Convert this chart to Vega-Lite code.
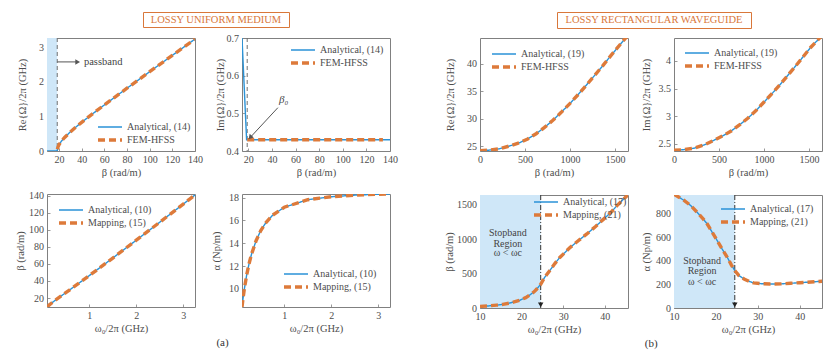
{
"$schema":"https://vega.github.io/schema/vega-lite/v6.json",
"background":"white",
"padding":{"left":15,"top":11,"right":5,"bottom":9},
"config":{
 "font":"Liberation Serif",
 "view":{"stroke":"#808080","strokeWidth":1},
 "axis":{"domain":false,"grid":false,"tickColor":"#808080","tickSize":-3,"tickWidth":0.8,"labelPadding":6.5,"labelFont":"Liberation Serif","labelFontSize":10,"labelColor":"#4d4d4d","labelFlush":false,"labelOverlap":false,"titleFont":"Liberation Serif","titleFontSize":10.5,"titleFontWeight":"normal","titleColor":"#4d4d4d","titlePadding":3,"labelExpr":"'' + datum.value"},
 "legend":{"labelFont":"Liberation Serif","labelFontSize":10,"labelColor":"#4d4d4d","rowPadding":1,"padding":0,"labelLimit":200},
 "title":{"font":"Liberation Serif","fontSize":11,"fontWeight":"normal","color":"#333333"}
},
"resolve":{"scale":{"color":"independent","strokeDash":"independent","strokeWidth":"independent"},"legend":{"color":"independent","strokeDash":"independent","strokeWidth":"independent"}},
"spacing":3,
"vconcat":[
 {"hconcat":[
   {"width":95,"height":15,"view":{"stroke":null},"data":{"values":[{"t":""}]},"mark":{"type":"text"},"encoding":{"text":{"field":"t"}}},
   {"width":146,"height":15,"view":{"stroke":"#d9773a","strokeWidth":1},"data":{"values":[{"t":"LOSSY UNIFORM MEDIUM"}]},"mark":{"type":"text","font":"Liberation Serif","fontSize":10.5,"color":"#d9773a"},"encoding":{"text":{"field":"t"}}},
   {"width":266,"height":15,"view":{"stroke":null},"data":{"values":[{"t":""}]},"mark":{"type":"text"},"encoding":{"text":{"field":"t"}}},
   {"width":194,"height":16,"view":{"stroke":"#d9773a","strokeWidth":1},"data":{"values":[{"t":"LOSSY RECTANGULAR WAVEGUIDE"}]},"mark":{"type":"text","font":"Liberation Serif","fontSize":10.5,"color":"#d9773a"},"encoding":{"text":{"field":"t"}}}
  ],"spacing":0},
 {"hconcat":[
  {"concat":[
   {"width":148,"height":113,"layer":[
     {"data":{"values":[{"x":9.44,"x2":18.48}]},"mark":{"type":"rect","color":"#cfe7f8"},"encoding":{"x":{"field":"x","type":"quantitative","axis":{"values":[20,40,60,80,100,120,140],"title":"β (rad/m)"}},"x2":{"field":"x2"}}},
     {"data":{"values":[{"x":18.48}]},"mark":{"type":"rule","color":"#707070","strokeDash":[4,3],"strokeWidth":1},"encoding":{"x":{"field":"x","type":"quantitative","axis":{"values":[20,40,60,80,100,120,140],"title":"β (rad/m)"}}}},
     {"data":{"values":[
       {"s":"Analytical, (14)","x":9.44,"y":0},{"s":"Analytical, (14)","x":18.48,"y":0},{"s":"Analytical, (14)","x":18.7,"y":0.067},{"s":"Analytical, (14)","x":19,"y":0.103},{"s":"Analytical, (14)","x":20,"y":0.178},{"s":"Analytical, (14)","x":22,"y":0.278},{"s":"Analytical, (14)","x":25,"y":0.392},{"s":"Analytical, (14)","x":30,"y":0.55},{"s":"Analytical, (14)","x":35,"y":0.692},{"s":"Analytical, (14)","x":40,"y":0.826},{"s":"Analytical, (14)","x":50,"y":1.081},{"s":"Analytical, (14)","x":60,"y":1.328},{"s":"Analytical, (14)","x":70,"y":1.571},{"s":"Analytical, (14)","x":80,"y":1.811},{"s":"Analytical, (14)","x":100,"y":2.287},{"s":"Analytical, (14)","x":120,"y":2.759},{"s":"Analytical, (14)","x":140,"y":3.229},
       {"s":"FEM-HFSS","x":18.6,"y":0.05},{"s":"FEM-HFSS","x":19,"y":0.103},{"s":"FEM-HFSS","x":20,"y":0.178},{"s":"FEM-HFSS","x":22,"y":0.278},{"s":"FEM-HFSS","x":25,"y":0.392},{"s":"FEM-HFSS","x":30,"y":0.55},{"s":"FEM-HFSS","x":35,"y":0.692},{"s":"FEM-HFSS","x":40,"y":0.826},{"s":"FEM-HFSS","x":50,"y":1.081},{"s":"FEM-HFSS","x":60,"y":1.328},{"s":"FEM-HFSS","x":70,"y":1.571},{"s":"FEM-HFSS","x":80,"y":1.811},{"s":"FEM-HFSS","x":100,"y":2.287},{"s":"FEM-HFSS","x":120,"y":2.759},{"s":"FEM-HFSS","x":140,"y":3.229}
     ]},"mark":{"type":"line","clip":true},"encoding":{
       "x":{"field":"x","type":"quantitative","scale":{"domain":[9.44,140],"nice":false,"zero":false},"axis":{"values":[20,40,60,80,100,120,140],"title":"β (rad/m)"}},
       "y":{"field":"y","type":"quantitative","scale":{"domain":[0,3.26],"nice":false,"zero":false},"axis":{"values":[0,1,2,3],"title":"Re{Ω}/2π (GHz)","titlePadding":11}},
       "color":{"field":"s","type":"nominal","scale":{"domain":["Analytical, (14)","FEM-HFSS"],"range":["#2b93d7","#dd7a3a"]},"legend":{"title":null,"orient":"bottom-right","offset":4,"symbolType":"M-1,0H3.8","symbolSize":100,"labelOffset":17}},
       "strokeDash":{"field":"s","type":"nominal","scale":{"domain":["Analytical, (14)","FEM-HFSS"],"range":[[1,0],[7,4]]},"legend":{"title":null,"orient":"bottom-right","offset":4,"symbolType":"M-1,0H3.8","symbolSize":100,"labelOffset":17}},
       "strokeWidth":{"field":"s","type":"nominal","scale":{"domain":["Analytical, (14)","FEM-HFSS"],"range":[1.4,3.4]},"legend":{"title":null,"orient":"bottom-right","offset":4,"symbolType":"M-1,0H3.8","symbolSize":100,"labelOffset":17}}}},
     {"data":{"values":[{"x":18.48,"x2":36,"y":2.57}]},"mark":{"type":"rule","color":"#555555","strokeWidth":1},"encoding":{"x":{"field":"x","type":"quantitative","axis":{"values":[20,40,60,80,100,120,140],"title":"β (rad/m)"}},"x2":{"field":"x2"},"y":{"field":"y","type":"quantitative","axis":{"values":[0,1,2,3],"title":"Re{Ω}/2π (GHz)","titlePadding":11}}}},
     {"data":{"values":[{"x":36.5,"y":2.57}]},"mark":{"type":"point","shape":"triangle-right","filled":true,"color":"#555555","size":30,"opacity":1},"encoding":{"x":{"field":"x","type":"quantitative","axis":{"values":[20,40,60,80,100,120,140],"title":"β (rad/m)"}},"y":{"field":"y","type":"quantitative","axis":{"values":[0,1,2,3],"title":"Re{Ω}/2π (GHz)","titlePadding":11}}}},
     {"data":{"values":[{"x":42,"y":2.57,"t":"passband"}]},"mark":{"type":"text","align":"left","baseline":"middle","fontSize":10.5,"color":"#444444"},"encoding":{"x":{"field":"x","type":"quantitative","axis":{"values":[20,40,60,80,100,120,140],"title":"β (rad/m)"}},"y":{"field":"y","type":"quantitative","axis":{"values":[0,1,2,3],"title":"Re{Ω}/2π (GHz)","titlePadding":11}},"text":{"field":"t"}}}
   ]},
   {"width":148,"height":113,"layer":[
     {"data":{"values":[{"x":19}]},"mark":{"type":"rule","color":"#707070","strokeDash":[4,3],"strokeWidth":1},"encoding":{"x":{"field":"x","type":"quantitative","axis":{"values":[20,40,60,80,100,120,140],"title":"β (rad/m)"}}}},
     {"data":{"values":[
       {"s":"Analytical, (14)","x":14.6,"y":0.7},{"s":"Analytical, (14)","x":18.5,"y":0.43},{"s":"Analytical, (14)","x":140,"y":0.43},
       {"s":"FEM-HFSS","x":19,"y":0.43},{"s":"FEM-HFSS","x":134,"y":0.43}
     ]},"mark":{"type":"line","clip":true},"encoding":{
       "x":{"field":"x","type":"quantitative","scale":{"domain":[14.6,140],"nice":false,"zero":false},"axis":{"values":[20,40,60,80,100,120,140],"title":"β (rad/m)"}},
       "y":{"field":"y","type":"quantitative","scale":{"domain":[0.4,0.7],"nice":false,"zero":false},"axis":{"values":[0.4,0.5,0.6,0.7],"title":"Im{Ω}/2π (GHz)","titlePadding":1}},
       "color":{"field":"s","type":"nominal","scale":{"domain":["Analytical, (14)","FEM-HFSS"],"range":["#2b93d7","#dd7a3a"]},"legend":{"title":null,"orient":"top-right","offset":6,"symbolType":"M-1,0H3.8","symbolSize":100,"labelOffset":17}},
       "strokeDash":{"field":"s","type":"nominal","scale":{"domain":["Analytical, (14)","FEM-HFSS"],"range":[[1,0],[7,4]]},"legend":{"title":null,"orient":"top-right","offset":6,"symbolType":"M-1,0H3.8","symbolSize":100,"labelOffset":17}},
       "strokeWidth":{"field":"s","type":"nominal","scale":{"domain":["Analytical, (14)","FEM-HFSS"],"range":[1.4,3.4]},"legend":{"title":null,"orient":"top-right","offset":6,"symbolType":"M-1,0H3.8","symbolSize":100,"labelOffset":17}}}},
     {"data":{"values":[{"x":45,"y":0.515,"x2":21,"y2":0.434}]},"mark":{"type":"rule","color":"#555555","strokeWidth":1},"encoding":{"x":{"field":"x","type":"quantitative","axis":{"values":[20,40,60,80,100,120,140],"title":"β (rad/m)"}},"x2":{"field":"x2"},"y":{"field":"y","type":"quantitative","axis":{"values":[0.4,0.5,0.6,0.7],"title":"Im{Ω}/2π (GHz)","titlePadding":1}},"y2":{"field":"y2"}}},
     {"data":{"values":[{"x":21.5,"y":0.436}]},"mark":{"type":"point","shape":"triangle-up","angle":222,"filled":true,"color":"#555555","size":30,"opacity":1},"encoding":{"x":{"field":"x","type":"quantitative","axis":{"values":[20,40,60,80,100,120,140],"title":"β (rad/m)"}},"y":{"field":"y","type":"quantitative","axis":{"values":[0.4,0.5,0.6,0.7],"title":"Im{Ω}/2π (GHz)","titlePadding":1}}}},
     {"data":{"values":[{"x":50,"y":0.535,"t":"β₀"}]},"mark":{"type":"text","align":"center","baseline":"middle","fontSize":11,"fontStyle":"italic","color":"#444444"},"encoding":{"x":{"field":"x","type":"quantitative","axis":{"values":[20,40,60,80,100,120,140],"title":"β (rad/m)"}},"y":{"field":"y","type":"quantitative","axis":{"values":[0.4,0.5,0.6,0.7],"title":"Im{Ω}/2π (GHz)","titlePadding":1}},"text":{"field":"t"}}}
   ]},
   {"width":148,"height":113,"layer":[
     {"data":{"values":[
       {"s":"Analytical, (10)","x":0.1,"y":9.44},{"s":"Analytical, (10)","x":0.12,"y":10.47},{"s":"Analytical, (10)","x":0.15,"y":11.9},{"s":"Analytical, (10)","x":0.2,"y":14.14},{"s":"Analytical, (10)","x":0.25,"y":16.26},{"s":"Analytical, (10)","x":0.3,"y":18.31},{"s":"Analytical, (10)","x":0.5,"y":26.27},{"s":"Analytical, (10)","x":0.75,"y":36.19},{"s":"Analytical, (10)","x":1,"y":46.27},{"s":"Analytical, (10)","x":1.5,"y":66.88},{"s":"Analytical, (10)","x":2,"y":87.82},{"s":"Analytical, (10)","x":2.5,"y":108.9},{"s":"Analytical, (10)","x":3,"y":130.2},{"s":"Analytical, (10)","x":3.25,"y":140.9},
       {"s":"Mapping, (15)","x":0.1,"y":9.44},{"s":"Mapping, (15)","x":0.12,"y":10.47},{"s":"Mapping, (15)","x":0.15,"y":11.9},{"s":"Mapping, (15)","x":0.2,"y":14.14},{"s":"Mapping, (15)","x":0.25,"y":16.26},{"s":"Mapping, (15)","x":0.3,"y":18.31},{"s":"Mapping, (15)","x":0.5,"y":26.27},{"s":"Mapping, (15)","x":0.75,"y":36.19},{"s":"Mapping, (15)","x":1,"y":46.27},{"s":"Mapping, (15)","x":1.5,"y":66.88},{"s":"Mapping, (15)","x":2,"y":87.82},{"s":"Mapping, (15)","x":2.5,"y":108.9},{"s":"Mapping, (15)","x":3,"y":130.2},{"s":"Mapping, (15)","x":3.25,"y":140.9}
     ]},"mark":{"type":"line","clip":true},"encoding":{
       "x":{"field":"x","type":"quantitative","scale":{"domain":[0.1,3.25],"nice":false,"zero":false},"axis":{"values":[1,2,3],"title":"ω₀/2π (GHz)"}},
       "y":{"field":"y","type":"quantitative","scale":{"domain":[9.45,142],"nice":false,"zero":false},"axis":{"values":[20,40,60,80,100,120,140],"title":"β (rad/m)","titlePadding":3}},
       "color":{"field":"s","type":"nominal","scale":{"domain":["Analytical, (10)","Mapping, (15)"],"range":["#2b93d7","#dd7a3a"]},"legend":{"title":null,"orient":"top-left","offset":10,"symbolType":"M-1,0H3.8","symbolSize":100,"labelOffset":17}},
       "strokeDash":{"field":"s","type":"nominal","scale":{"domain":["Analytical, (10)","Mapping, (15)"],"range":[[1,0],[7,4]]},"legend":{"title":null,"orient":"top-left","offset":10,"symbolType":"M-1,0H3.8","symbolSize":100,"labelOffset":17}},
       "strokeWidth":{"field":"s","type":"nominal","scale":{"domain":["Analytical, (10)","Mapping, (15)"],"range":[1.4,3.4]},"legend":{"title":null,"orient":"top-left","offset":10,"symbolType":"M-1,0H3.8","symbolSize":100,"labelOffset":17}}}}
   ]},
   {"width":148,"height":113,"layer":[
     {"data":{"values":[
       {"s":"Analytical, (10)","x":0.1,"y":8.41},{"s":"Analytical, (10)","x":0.12,"y":9.11},{"s":"Analytical, (10)","x":0.15,"y":10.01},{"s":"Analytical, (10)","x":0.2,"y":11.23},{"s":"Analytical, (10)","x":0.25,"y":12.21},{"s":"Analytical, (10)","x":0.3,"y":13.01},{"s":"Analytical, (10)","x":0.4,"y":14.23},{"s":"Analytical, (10)","x":0.5,"y":15.12},{"s":"Analytical, (10)","x":0.6,"y":15.76},{"s":"Analytical, (10)","x":0.75,"y":16.46},{"s":"Analytical, (10)","x":1,"y":17.16},{"s":"Analytical, (10)","x":1.5,"y":17.82},{"s":"Analytical, (10)","x":2,"y":18.08},{"s":"Analytical, (10)","x":2.5,"y":18.22},{"s":"Analytical, (10)","x":3,"y":18.3},{"s":"Analytical, (10)","x":3.25,"y":18.32},
       {"s":"Mapping, (15)","x":0.1,"y":8.41},{"s":"Mapping, (15)","x":0.12,"y":9.11},{"s":"Mapping, (15)","x":0.15,"y":10.01},{"s":"Mapping, (15)","x":0.2,"y":11.23},{"s":"Mapping, (15)","x":0.25,"y":12.21},{"s":"Mapping, (15)","x":0.3,"y":13.01},{"s":"Mapping, (15)","x":0.4,"y":14.23},{"s":"Mapping, (15)","x":0.5,"y":15.12},{"s":"Mapping, (15)","x":0.6,"y":15.76},{"s":"Mapping, (15)","x":0.75,"y":16.46},{"s":"Mapping, (15)","x":1,"y":17.16},{"s":"Mapping, (15)","x":1.5,"y":17.82},{"s":"Mapping, (15)","x":2,"y":18.08},{"s":"Mapping, (15)","x":2.5,"y":18.22},{"s":"Mapping, (15)","x":3,"y":18.3},{"s":"Mapping, (15)","x":3.25,"y":18.32}
     ]},"mark":{"type":"line","clip":true},"encoding":{
       "x":{"field":"x","type":"quantitative","scale":{"domain":[0.1,3.25],"nice":false,"zero":false},"axis":{"values":[1,2,3],"title":"ω₀/2π (GHz)"}},
       "y":{"field":"y","type":"quantitative","scale":{"domain":[8.42,18.32],"nice":false,"zero":false},"axis":{"values":[10,12,14,16,18],"title":"α (Np/m)","titlePadding":7}},
       "color":{"field":"s","type":"nominal","scale":{"domain":["Analytical, (10)","Mapping, (15)"],"range":["#2b93d7","#dd7a3a"]},"legend":{"title":null,"orient":"bottom-right","offset":13,"symbolType":"M-1,0H3.8","symbolSize":100,"labelOffset":17}},
       "strokeDash":{"field":"s","type":"nominal","scale":{"domain":["Analytical, (10)","Mapping, (15)"],"range":[[1,0],[7,4]]},"legend":{"title":null,"orient":"bottom-right","offset":13,"symbolType":"M-1,0H3.8","symbolSize":100,"labelOffset":17}},
       "strokeWidth":{"field":"s","type":"nominal","scale":{"domain":["Analytical, (10)","Mapping, (15)"],"range":[1.4,3.4]},"legend":{"title":null,"orient":"bottom-right","offset":13,"symbolType":"M-1,0H3.8","symbolSize":100,"labelOffset":17}}}}
   ]}
  ],"columns":2,"spacing":{"row":43,"column":47},"bounds":"flush",
  "title":{"text":"(a)","orient":"bottom","anchor":"middle","offset":2,"dx":16},
  "resolve":{"scale":{"color":"independent","strokeDash":"independent","strokeWidth":"independent"},"legend":{"color":"independent","strokeDash":"independent","strokeWidth":"independent"}}},
  {"concat":[
   {"width":148,"height":113,"layer":[
     {"data":{"values":[
       {"s":"Analytical, (19)","x":0,"y":24.15},{"s":"Analytical, (19)","x":100,"y":24.25},{"s":"Analytical, (19)","x":215,"y":24.5},{"s":"Analytical, (19)","x":325,"y":25},{"s":"Analytical, (19)","x":438,"y":25.6},{"s":"Analytical, (19)","x":530,"y":26.3},{"s":"Analytical, (19)","x":624,"y":27.25},{"s":"Analytical, (19)","x":717,"y":28.4},{"s":"Analytical, (19)","x":810,"y":29.7},{"s":"Analytical, (19)","x":903,"y":31.15},{"s":"Analytical, (19)","x":996,"y":32.7},{"s":"Analytical, (19)","x":1089,"y":34.35},{"s":"Analytical, (19)","x":1182,"y":36.1},{"s":"Analytical, (19)","x":1275,"y":37.9},{"s":"Analytical, (19)","x":1368,"y":39.7},{"s":"Analytical, (19)","x":1450,"y":41.4},{"s":"Analytical, (19)","x":1517,"y":42.7},{"s":"Analytical, (19)","x":1580,"y":43.95},{"s":"Analytical, (19)","x":1645,"y":45.2},
       {"s":"FEM-HFSS","x":0,"y":24.15},{"s":"FEM-HFSS","x":100,"y":24.25},{"s":"FEM-HFSS","x":215,"y":24.5},{"s":"FEM-HFSS","x":325,"y":25},{"s":"FEM-HFSS","x":438,"y":25.6},{"s":"FEM-HFSS","x":530,"y":26.3},{"s":"FEM-HFSS","x":624,"y":27.25},{"s":"FEM-HFSS","x":717,"y":28.4},{"s":"FEM-HFSS","x":810,"y":29.7},{"s":"FEM-HFSS","x":903,"y":31.15},{"s":"FEM-HFSS","x":996,"y":32.7},{"s":"FEM-HFSS","x":1089,"y":34.35},{"s":"FEM-HFSS","x":1182,"y":36.1},{"s":"FEM-HFSS","x":1275,"y":37.9},{"s":"FEM-HFSS","x":1368,"y":39.7},{"s":"FEM-HFSS","x":1450,"y":41.4},{"s":"FEM-HFSS","x":1517,"y":42.7},{"s":"FEM-HFSS","x":1580,"y":43.95},{"s":"FEM-HFSS","x":1645,"y":45.2}
     ]},"mark":{"type":"line","clip":true},"encoding":{
       "x":{"field":"x","type":"quantitative","scale":{"domain":[0,1645],"nice":false,"zero":false},"axis":{"values":[0,500,1000,1500],"title":"β (rad/m)"}},
       "y":{"field":"y","type":"quantitative","scale":{"domain":[24.1,44.7],"nice":false,"zero":false},"axis":{"values":[25,30,35,40],"title":"Re{Ω}/2π (GHz)","titlePadding":11}},
       "color":{"field":"s","type":"nominal","scale":{"domain":["Analytical, (19)","FEM-HFSS"],"range":["#2b93d7","#dd7a3a"]},"legend":{"title":null,"orient":"top-left","offset":10,"symbolType":"M-1,0H3.8","symbolSize":100,"labelOffset":17}},
       "strokeDash":{"field":"s","type":"nominal","scale":{"domain":["Analytical, (19)","FEM-HFSS"],"range":[[1,0],[7,4]]},"legend":{"title":null,"orient":"top-left","offset":10,"symbolType":"M-1,0H3.8","symbolSize":100,"labelOffset":17}},
       "strokeWidth":{"field":"s","type":"nominal","scale":{"domain":["Analytical, (19)","FEM-HFSS"],"range":[1.4,3.4]},"legend":{"title":null,"orient":"top-left","offset":10,"symbolType":"M-1,0H3.8","symbolSize":100,"labelOffset":17}}}}
   ]},
   {"width":148,"height":113,"layer":[
     {"data":{"values":[
       {"s":"Analytical, (19)","x":0,"y":2.38},{"s":"Analytical, (19)","x":100,"y":2.39},{"s":"Analytical, (19)","x":229,"y":2.42},{"s":"Analytical, (19)","x":340,"y":2.48},{"s":"Analytical, (19)","x":450,"y":2.567},{"s":"Analytical, (19)","x":540,"y":2.64},{"s":"Analytical, (19)","x":635,"y":2.73},{"s":"Analytical, (19)","x":727,"y":2.84},{"s":"Analytical, (19)","x":819,"y":2.96},{"s":"Analytical, (19)","x":911,"y":3.1},{"s":"Analytical, (19)","x":1003,"y":3.26},{"s":"Analytical, (19)","x":1095,"y":3.42},{"s":"Analytical, (19)","x":1188,"y":3.59},{"s":"Analytical, (19)","x":1280,"y":3.77},{"s":"Analytical, (19)","x":1372,"y":3.95},{"s":"Analytical, (19)","x":1446,"y":4.1},{"s":"Analytical, (19)","x":1520,"y":4.25},{"s":"Analytical, (19)","x":1585,"y":4.36},{"s":"Analytical, (19)","x":1644,"y":4.46},
       {"s":"FEM-HFSS","x":0,"y":2.38},{"s":"FEM-HFSS","x":100,"y":2.39},{"s":"FEM-HFSS","x":229,"y":2.42},{"s":"FEM-HFSS","x":340,"y":2.48},{"s":"FEM-HFSS","x":450,"y":2.567},{"s":"FEM-HFSS","x":540,"y":2.64},{"s":"FEM-HFSS","x":635,"y":2.73},{"s":"FEM-HFSS","x":727,"y":2.84},{"s":"FEM-HFSS","x":819,"y":2.96},{"s":"FEM-HFSS","x":911,"y":3.1},{"s":"FEM-HFSS","x":1003,"y":3.26},{"s":"FEM-HFSS","x":1095,"y":3.42},{"s":"FEM-HFSS","x":1188,"y":3.59},{"s":"FEM-HFSS","x":1280,"y":3.77},{"s":"FEM-HFSS","x":1372,"y":3.95},{"s":"FEM-HFSS","x":1446,"y":4.1},{"s":"FEM-HFSS","x":1520,"y":4.25},{"s":"FEM-HFSS","x":1585,"y":4.36},{"s":"FEM-HFSS","x":1644,"y":4.46}
     ]},"mark":{"type":"line","clip":true},"encoding":{
       "x":{"field":"x","type":"quantitative","scale":{"domain":[0,1644],"nice":false,"zero":false},"axis":{"values":[0,500,1000,1500],"title":"β (rad/m)"}},
       "y":{"field":"y","type":"quantitative","scale":{"domain":[2.367,4.417],"nice":false,"zero":false},"axis":{"values":[2.5,3,3.5,4],"title":"Im{Ω}/2π (GHz)","titlePadding":7}},
       "color":{"field":"s","type":"nominal","scale":{"domain":["Analytical, (19)","FEM-HFSS"],"range":["#2b93d7","#dd7a3a"]},"legend":{"title":null,"orient":"top-left","offset":9,"symbolType":"M-1,0H3.8","symbolSize":100,"labelOffset":17}},
       "strokeDash":{"field":"s","type":"nominal","scale":{"domain":["Analytical, (19)","FEM-HFSS"],"range":[[1,0],[7,4]]},"legend":{"title":null,"orient":"top-left","offset":9,"symbolType":"M-1,0H3.8","symbolSize":100,"labelOffset":17}},
       "strokeWidth":{"field":"s","type":"nominal","scale":{"domain":["Analytical, (19)","FEM-HFSS"],"range":[1.4,3.4]},"legend":{"title":null,"orient":"top-left","offset":9,"symbolType":"M-1,0H3.8","symbolSize":100,"labelOffset":17}}}}
   ]},
   {"width":148,"height":113,"layer":[
     {"data":{"values":[{"x":10,"x2":24.6}]},"mark":{"type":"rect","color":"#cfe7f8"},"encoding":{"x":{"field":"x","type":"quantitative","axis":{"values":[10,20,30,40],"title":"ω₀/2π (GHz)"}},"x2":{"field":"x2"}}},
     {"data":{"values":[{"x":24.6}]},"mark":{"type":"rule","color":"#333333","strokeDash":[5,2,1,2],"strokeWidth":1},"encoding":{"x":{"field":"x","type":"quantitative","axis":{"values":[10,20,30,40],"title":"ω₀/2π (GHz)"}}}},
     {"data":{"values":[{"x":24.6,"y":45}]},"mark":{"type":"point","shape":"triangle-down","filled":true,"color":"#222222","size":30,"opacity":1},"encoding":{"x":{"field":"x","type":"quantitative","axis":{"values":[10,20,30,40],"title":"ω₀/2π (GHz)"}},"y":{"field":"y","type":"quantitative","axis":{"values":[0,500,1000,1500],"title":"β (rad/m)","titlePadding":2}}}},
     {"data":{"values":[{"x":16.7,"y":1091,"t":"Stopband"},{"x":16.7,"y":930,"t":"Region"},{"x":16.7,"y":794,"t":"ω < ωc"}]},"mark":{"type":"text","align":"center","baseline":"middle","fontSize":10,"color":"#444444"},"encoding":{"x":{"field":"x","type":"quantitative","axis":{"values":[10,20,30,40],"title":"ω₀/2π (GHz)"}},"y":{"field":"y","type":"quantitative","axis":{"values":[0,500,1000,1500],"title":"β (rad/m)","titlePadding":2}},"text":{"field":"t"}}},
     {"data":{"values":[
       {"s":"Analytical, (17)","x":10,"y":23},{"s":"Analytical, (17)","x":12,"y":30},{"s":"Analytical, (17)","x":14,"y":42},{"s":"Analytical, (17)","x":15.5,"y":53},{"s":"Analytical, (17)","x":17,"y":70},{"s":"Analytical, (17)","x":18,"y":85},{"s":"Analytical, (17)","x":19.5,"y":111},{"s":"Analytical, (17)","x":21,"y":150},{"s":"Analytical, (17)","x":22,"y":190},{"s":"Analytical, (17)","x":23,"y":235},{"s":"Analytical, (17)","x":23.6,"y":272},{"s":"Analytical, (17)","x":24.6,"y":345},{"s":"Analytical, (17)","x":25.5,"y":440},{"s":"Analytical, (17)","x":26.8,"y":545},{"s":"Analytical, (17)","x":28,"y":645},{"s":"Analytical, (17)","x":29.2,"y":735},{"s":"Analytical, (17)","x":30.5,"y":810},{"s":"Analytical, (17)","x":31.7,"y":881},{"s":"Analytical, (17)","x":33.7,"y":980},{"s":"Analytical, (17)","x":35.7,"y":1076},{"s":"Analytical, (17)","x":37.8,"y":1185},{"s":"Analytical, (17)","x":39.8,"y":1295},{"s":"Analytical, (17)","x":41.5,"y":1390},{"s":"Analytical, (17)","x":43,"y":1491},{"s":"Analytical, (17)","x":44.5,"y":1580},{"s":"Analytical, (17)","x":45.6,"y":1645},
       {"s":"Mapping, (21)","x":10,"y":23},{"s":"Mapping, (21)","x":12,"y":30},{"s":"Mapping, (21)","x":14,"y":42},{"s":"Mapping, (21)","x":15.5,"y":53},{"s":"Mapping, (21)","x":17,"y":70},{"s":"Mapping, (21)","x":18,"y":85},{"s":"Mapping, (21)","x":19.5,"y":111},{"s":"Mapping, (21)","x":21,"y":150},{"s":"Mapping, (21)","x":22,"y":190},{"s":"Mapping, (21)","x":23,"y":235},{"s":"Mapping, (21)","x":23.6,"y":272},{"s":"Mapping, (21)","x":24.6,"y":345},{"s":"Mapping, (21)","x":25.5,"y":440},{"s":"Mapping, (21)","x":26.8,"y":545},{"s":"Mapping, (21)","x":28,"y":645},{"s":"Mapping, (21)","x":29.2,"y":735},{"s":"Mapping, (21)","x":30.5,"y":810},{"s":"Mapping, (21)","x":31.7,"y":881},{"s":"Mapping, (21)","x":33.7,"y":980},{"s":"Mapping, (21)","x":35.7,"y":1076},{"s":"Mapping, (21)","x":37.8,"y":1185},{"s":"Mapping, (21)","x":39.8,"y":1295},{"s":"Mapping, (21)","x":41.5,"y":1390},{"s":"Mapping, (21)","x":43,"y":1491},{"s":"Mapping, (21)","x":44.5,"y":1580},{"s":"Mapping, (21)","x":45.6,"y":1645}
     ]},"mark":{"type":"line","clip":true},"encoding":{
       "x":{"field":"x","type":"quantitative","scale":{"domain":[10,45.6],"nice":false,"zero":false},"axis":{"values":[10,20,30,40],"title":"ω₀/2π (GHz)"}},
       "y":{"field":"y","type":"quantitative","scale":{"domain":[0,1642],"nice":false,"zero":false},"axis":{"values":[0,500,1000,1500],"title":"β (rad/m)","titlePadding":2}},
       "color":{"field":"s","type":"nominal","scale":{"domain":["Analytical, (17)","Mapping, (21)"],"range":["#2b93d7","#dd7a3a"]},"legend":{"title":null,"orient":"top-right","offset":1,"symbolType":"M-1,0H3.8","symbolSize":100,"labelOffset":17}},
       "strokeDash":{"field":"s","type":"nominal","scale":{"domain":["Analytical, (17)","Mapping, (21)"],"range":[[1,0],[7,4]]},"legend":{"title":null,"orient":"top-right","offset":1,"symbolType":"M-1,0H3.8","symbolSize":100,"labelOffset":17}},
       "strokeWidth":{"field":"s","type":"nominal","scale":{"domain":["Analytical, (17)","Mapping, (21)"],"range":[1.4,3.4]},"legend":{"title":null,"orient":"top-right","offset":1,"symbolType":"M-1,0H3.8","symbolSize":100,"labelOffset":17}}}}
   ]},
   {"width":148,"height":113,"layer":[
     {"data":{"values":[{"x":10,"x2":24.5}]},"mark":{"type":"rect","color":"#cfe7f8"},"encoding":{"x":{"field":"x","type":"quantitative","axis":{"values":[10,20,30,40],"title":"ω₀/2π (GHz)"}},"x2":{"field":"x2"}}},
     {"data":{"values":[{"x":24.5}]},"mark":{"type":"rule","color":"#333333","strokeDash":[5,2,1,2],"strokeWidth":1},"encoding":{"x":{"field":"x","type":"quantitative","axis":{"values":[10,20,30,40],"title":"ω₀/2π (GHz)"}}}},
     {"data":{"values":[{"x":24.5,"y":26}]},"mark":{"type":"point","shape":"triangle-down","filled":true,"color":"#222222","size":30,"opacity":1},"encoding":{"x":{"field":"x","type":"quantitative","axis":{"values":[10,20,30,40],"title":"ω₀/2π (GHz)"}},"y":{"field":"y","type":"quantitative","axis":{"values":[0,200,400,600,800],"title":"α (Np/m)","titlePadding":4}}}},
     {"data":{"values":[{"x":16.7,"y":397,"t":"Stopband"},{"x":16.7,"y":312,"t":"Region"},{"x":16.7,"y":225,"t":"ω < ωc"}]},"mark":{"type":"text","align":"center","baseline":"middle","fontSize":10,"color":"#444444"},"encoding":{"x":{"field":"x","type":"quantitative","axis":{"values":[10,20,30,40],"title":"ω₀/2π (GHz)"}},"y":{"field":"y","type":"quantitative","axis":{"values":[0,200,400,600,800],"title":"α (Np/m)","titlePadding":4}},"text":{"field":"t"}}},
     {"data":{"values":[
       {"s":"Analytical, (17)","x":10,"y":965},{"s":"Analytical, (17)","x":11,"y":945},{"s":"Analytical, (17)","x":12.4,"y":914},{"s":"Analytical, (17)","x":14,"y":870},{"s":"Analytical, (17)","x":15.5,"y":814},{"s":"Analytical, (17)","x":17,"y":755},{"s":"Analytical, (17)","x":17.9,"y":715},{"s":"Analytical, (17)","x":19,"y":650},{"s":"Analytical, (17)","x":20.3,"y":573},{"s":"Analytical, (17)","x":21.5,"y":500},{"s":"Analytical, (17)","x":22.7,"y":431},{"s":"Analytical, (17)","x":23.7,"y":365},{"s":"Analytical, (17)","x":24.5,"y":318},{"s":"Analytical, (17)","x":25.5,"y":275},{"s":"Analytical, (17)","x":26.7,"y":247},{"s":"Analytical, (17)","x":28,"y":225},{"s":"Analytical, (17)","x":29,"y":213},{"s":"Analytical, (17)","x":31,"y":206},{"s":"Analytical, (17)","x":33,"y":204},{"s":"Analytical, (17)","x":35.5,"y":205},{"s":"Analytical, (17)","x":37.8,"y":210},{"s":"Analytical, (17)","x":40,"y":215},{"s":"Analytical, (17)","x":41.7,"y":219},{"s":"Analytical, (17)","x":43.5,"y":223},{"s":"Analytical, (17)","x":45.5,"y":228},
       {"s":"Mapping, (21)","x":10,"y":965},{"s":"Mapping, (21)","x":11,"y":945},{"s":"Mapping, (21)","x":12.4,"y":914},{"s":"Mapping, (21)","x":14,"y":870},{"s":"Mapping, (21)","x":15.5,"y":814},{"s":"Mapping, (21)","x":17,"y":755},{"s":"Mapping, (21)","x":17.9,"y":715},{"s":"Mapping, (21)","x":19,"y":650},{"s":"Mapping, (21)","x":20.3,"y":573},{"s":"Mapping, (21)","x":21.5,"y":500},{"s":"Mapping, (21)","x":22.7,"y":431},{"s":"Mapping, (21)","x":23.7,"y":365},{"s":"Mapping, (21)","x":24.5,"y":318},{"s":"Mapping, (21)","x":25.5,"y":275},{"s":"Mapping, (21)","x":26.7,"y":247},{"s":"Mapping, (21)","x":28,"y":225},{"s":"Mapping, (21)","x":29,"y":213},{"s":"Mapping, (21)","x":31,"y":206},{"s":"Mapping, (21)","x":33,"y":204},{"s":"Mapping, (21)","x":35.5,"y":205},{"s":"Mapping, (21)","x":37.8,"y":210},{"s":"Mapping, (21)","x":40,"y":215},{"s":"Mapping, (21)","x":41.7,"y":219},{"s":"Mapping, (21)","x":43.5,"y":223},{"s":"Mapping, (21)","x":45.5,"y":228}
     ]},"mark":{"type":"line","clip":true},"encoding":{
       "x":{"field":"x","type":"quantitative","scale":{"domain":[10,45.3],"nice":false,"zero":false},"axis":{"values":[10,20,30,40],"title":"ω₀/2π (GHz)"}},
       "y":{"field":"y","type":"quantitative","scale":{"domain":[0,960],"nice":false,"zero":false},"axis":{"values":[0,200,400,600,800],"title":"α (Np/m)","titlePadding":4}},
       "color":{"field":"s","type":"nominal","scale":{"domain":["Analytical, (17)","Mapping, (21)"],"range":["#2b93d7","#dd7a3a"]},"legend":{"title":null,"orient":"top-right","offset":8,"symbolType":"M-1,0H3.8","symbolSize":100,"labelOffset":17}},
       "strokeDash":{"field":"s","type":"nominal","scale":{"domain":["Analytical, (17)","Mapping, (21)"],"range":[[1,0],[7,4]]},"legend":{"title":null,"orient":"top-right","offset":8,"symbolType":"M-1,0H3.8","symbolSize":100,"labelOffset":17}},
       "strokeWidth":{"field":"s","type":"nominal","scale":{"domain":["Analytical, (17)","Mapping, (21)"],"range":[1.4,3.4]},"legend":{"title":null,"orient":"top-right","offset":8,"symbolType":"M-1,0H3.8","symbolSize":100,"labelOffset":17}}}}
   ]}
  ],"columns":2,"spacing":{"row":44,"column":46},"bounds":"flush",
  "title":{"text":"(b)","orient":"bottom","anchor":"middle","offset":2,"dx":18},
  "resolve":{"scale":{"color":"independent","strokeDash":"independent","strokeWidth":"independent"},"legend":{"color":"independent","strokeDash":"independent","strokeWidth":"independent"}}}
 ],"spacing":46,
 "resolve":{"scale":{"color":"independent","strokeDash":"independent","strokeWidth":"independent"},"legend":{"color":"independent","strokeDash":"independent","strokeWidth":"independent"}}}
]
}
